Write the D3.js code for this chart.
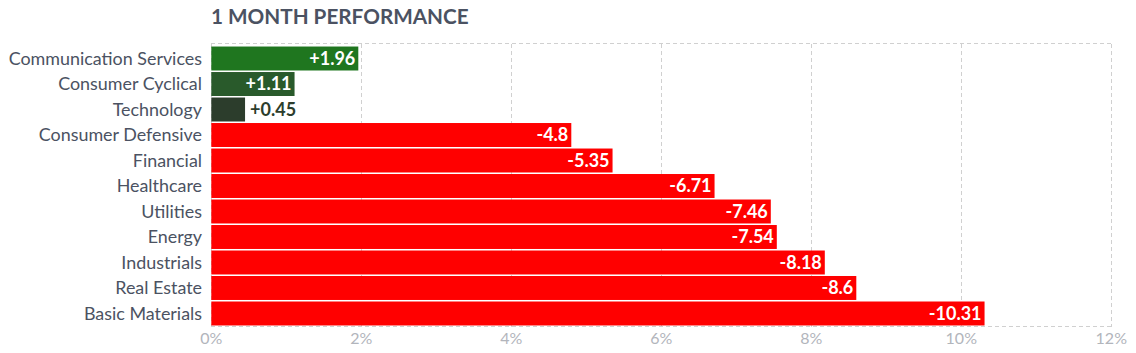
<!DOCTYPE html>
<html><head><meta charset="utf-8">
<script src="https://cdn.jsdelivr.net/npm/d3@7/dist/d3.min.js"></script>
<style>body{margin:0;background:#fff;}svg{display:block;font-family:Lato,sans-serif;}</style>
</head><body><svg id="c" width="1136" height="353"></svg>
<script>
const categories = ["Communication Services","Consumer Cyclical","Technology","Consumer Defensive","Financial","Healthcare","Utilities","Energy","Industrials","Real Estate","Basic Materials"];
const values = [1.96,1.11,0.45,-4.8,-5.35,-6.71,-7.46,-7.54,-8.18,-8.6,-10.31];
const labels = ["+1.96","+1.11","+0.45","-4.8","-5.35","-6.71","-7.46","-7.54","-8.18","-8.6","-10.31"];
const barColors = ["#1f761f","#295a2b","#2c3d2c","#ff0000","#ff0000","#ff0000","#ff0000","#ff0000","#ff0000","#ff0000","#ff0000"];
const tickValues = [0,2,4,6,8,10,12];
const title = "1 MONTH PERFORMANCE";

const svg = d3.select("#c");
const L=211.3, R=1111.3, T=43.5, B=326.7;
const x = d3.scaleLinear().domain([0,12]).range([L,R]);
const y = d3.scaleBand().domain(categories).range([45,327]).paddingInner(0.06).paddingOuter(0.06);

svg.append("text").attr("x",211).attr("y",24).attr("fill","#4b5262")
  .attr("font-size",20.7).attr("font-weight",700).text(title);

// grid
const g = svg.append("g");
g.selectAll("line.v").data(tickValues).join("line")
  .attr("x1",d=>x(d)).attr("x2",d=>x(d)).attr("y1",T).attr("y2",B)
  .attr("stroke","#d0d0d0").attr("stroke-dasharray","4,3").attr("shape-rendering","crispEdges");
[T,B].forEach(yy=>g.append("line").attr("x1",L).attr("x2",R).attr("y1",yy).attr("y2",yy)
  .attr("stroke","#d0d0d0").attr("stroke-dasharray","4,3").attr("shape-rendering","crispEdges"));

// axis labels
svg.selectAll("text.tick").data(tickValues).join("text").attr("class","tick")
  .attr("x",d=>x(d)).attr("y",344).attr("text-anchor","middle")
  .attr("fill","#b2b5bc").attr("font-size",16).text(d=>d+"%");

// category labels
svg.selectAll("text.cat").data(categories).join("text").attr("class","cat")
  .attr("x",202).attr("y",d=>y(d)+y.bandwidth()/2).attr("dy","0.35em")
  .attr("text-anchor","end").attr("fill","#4b5262").attr("font-size",17.9).text(d=>d);

// bars
const data = categories.map((c,i)=>({c,v:values[i],l:labels[i],col:barColors[i]}));
svg.selectAll("rect.bar").data(data).join("rect")
  .attr("x",x(0)).attr("y",d=>y(d.c)).attr("width",d=>x(Math.abs(d.v))-x(0))
  .attr("height",y.bandwidth()).attr("fill",d=>d.col);

svg.selectAll("text.val").data(data).join("text")
  .each(function(d){
    const w = x(Math.abs(d.v))-x(0);
    const inside = w>60;
    d3.select(this).attr("x", inside? x(Math.abs(d.v))-3 : x(Math.abs(d.v))+5)
      .attr("text-anchor", inside?"end":"start")
      .attr("fill", inside?"#ffffff":"#2c3d2c");
  })
  .attr("y",d=>y(d.c)+y.bandwidth()/2).attr("dy","0.36em")
  .attr("font-size",18).attr("font-weight",700).text(d=>d.l);
</script></body></html>
